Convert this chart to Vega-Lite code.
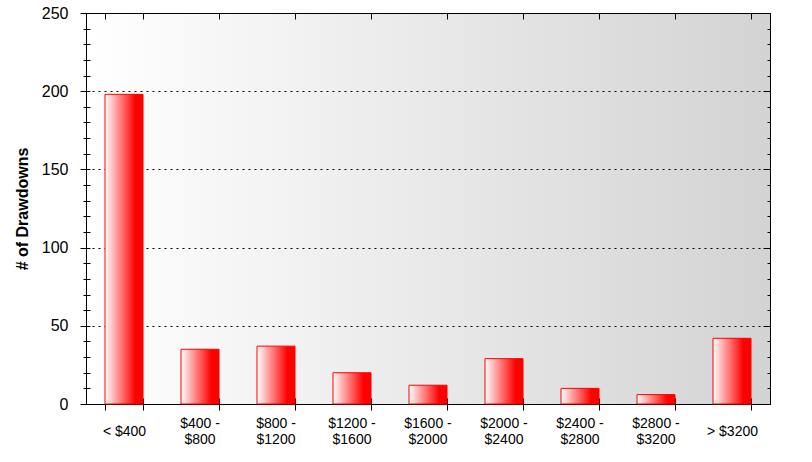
{
  "$schema": "https://vega.github.io/schema/vega-lite/v6.json",
  "autosize": {"type": "none"},
  "width": 684,
  "height": 391,
  "padding": {"left": 86, "top": 13, "right": 42, "bottom": 58},
  "background": "#ffffff",
  "config": {
    "view": {
      "stroke": "#000000",
      "strokeWidth": 1,
      "fill": {"gradient": "linear", "x1": 0, "y1": 0, "x2": 1, "y2": 0,
        "stops": [{"offset": 0, "color": "#ffffff"}, {"offset": 1, "color": "#d3d3d3"}]}
    },
    "axis": {"labelFont": "Liberation Sans", "titleFont": "Liberation Sans", "labelColor": "#000000", "tickColor": "#000000", "domainColor": "#000000", "titleColor": "#000000"}
  },
  "data": {"values": [
    {"range": "< $400", "count": 198},
    {"range": "$400 - $800", "count": 35},
    {"range": "$800 - $1200", "count": 37},
    {"range": "$1200 - $1600", "count": 20},
    {"range": "$1600 - $2000", "count": 12},
    {"range": "$2000 - $2400", "count": 29},
    {"range": "$2400 - $2800", "count": 10},
    {"range": "$2800 - $3200", "count": 6},
    {"range": "> $3200", "count": 42}
  ]},
  "resolve": {"axis": {"x": "independent", "y": "independent"}},
  "layer": [
    {
      "mark": {"type": "bar", "stroke": "#ff0000", "strokeWidth": 1,
        "fill": {"gradient": "linear", "x1": 0, "y1": 0, "x2": 1, "y2": 0,
          "stops": [{"offset": 0, "color": "#ffffff"}, {"offset": 0.8, "color": "#ff0000"}, {"offset": 1, "color": "#ff0000"}]}},
      "encoding": {
        "x": {"field": "range", "type": "nominal", "sort": null,
          "scale": {"paddingInner": 0.5, "paddingOuter": 0.25},
          "axis": {"orient": "bottom", "title": null, "domain": false, "offset": -6, "tickSize": 12, "tickBand": "extent",
            "labelAngle": 0, "labelFontSize": 14, "labelBaseline": "middle", "labelPadding": 21, "labelOverlap": false,
            "labelExpr": "indexof(datum.label, ' - ') >= 0 ? '' : datum.label"}},
        "y": {"field": "count", "type": "quantitative",
          "scale": {"domain": [0, 250], "nice": false},
          "axis": {"orient": "left", "title": "# of Drawdowns", "titleFontSize": 16, "titleFontWeight": "bold", "titlePadding": 11,
            "values": [0, 50, 100, 150, 200, 250], "domain": false, "tickSize": 6, "labelFontSize": 16, "labelPadding": 12,
            "grid": true, "gridColor": "#000000", "gridDash": [2, 4], "gridWidth": 1}}
      }
    },
    {
      "mark": {"type": "bar", "opacity": 0},
      "encoding": {
        "x": {"field": "range", "type": "nominal", "sort": null,
          "axis": {"orient": "top", "title": null, "domain": false, "labels": false, "offset": -6, "tickSize": 6, "tickBand": "extent"}},
        "y": {"field": "count", "type": "quantitative",
          "axis": {"orient": "left", "title": null, "labels": false, "domain": false, "grid": false, "offset": -4, "tickSize": 7,
            "values": [0, 10, 20, 30, 40, 50, 60, 70, 80, 90, 100, 110, 120, 130, 140, 150, 160, 170, 180, 190, 200, 210, 220, 230, 240, 250]}}
      }
    },
    {
      "mark": {"type": "bar", "opacity": 0},
      "encoding": {
        "x": {"field": "range", "type": "nominal", "sort": null,
          "axis": {"orient": "bottom", "title": null, "domain": false, "offset": -6, "tickSize": 12, "tickOpacity": 0,
            "labelAngle": 0, "labelFontSize": 14, "labelBaseline": "middle", "labelPadding": 13, "labelOverlap": false,
            "labelExpr": "indexof(datum.label, ' - ') >= 0 ? split(datum.label, ' - ')[0] + ' -' : ''"}},
        "y": {"field": "count", "type": "quantitative",
          "axis": {"orient": "right", "title": null, "labels": false, "domain": false, "grid": false, "offset": -7, "tickSize": 7,
            "values": [0, 50, 100, 150, 200, 250]}}
      }
    },
    {
      "mark": {"type": "bar", "opacity": 0},
      "encoding": {
        "x": {"field": "range", "type": "nominal", "sort": null,
          "axis": {"orient": "bottom", "title": null, "domain": false, "offset": -6, "tickSize": 12, "tickOpacity": 0,
            "labelAngle": 0, "labelFontSize": 14, "labelBaseline": "middle", "labelPadding": 29, "labelOverlap": false,
            "labelExpr": "indexof(datum.label, ' - ') >= 0 ? split(datum.label, ' - ')[1] : ''"}},
        "y": {"field": "count", "type": "quantitative",
          "axis": {"orient": "right", "title": null, "labels": false, "domain": false, "grid": false, "offset": -3, "tickSize": 3,
            "values": [0, 10, 20, 30, 40, 50, 60, 70, 80, 90, 100, 110, 120, 130, 140, 150, 160, 170, 180, 190, 200, 210, 220, 230, 240, 250]}}
      }
    }
  ]
}
